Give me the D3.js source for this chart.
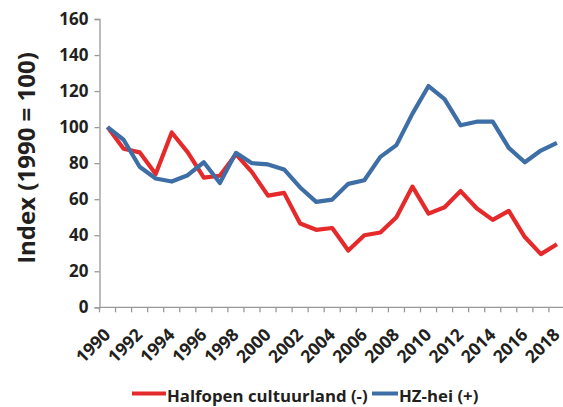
<!DOCTYPE html>
<html>
<head>
<meta charset="utf-8">
<script src="https://cdn.jsdelivr.net/npm/d3@7"></script>
<style>
  html, body { margin: 0; padding: 0; background: #fff; }
  svg { display: block; font-family: "Open Sans", "Noto Sans", sans-serif; }
</style>
</head>
<body>
<svg id="chart" width="563" height="407"></svg>
<script>
const years = [1990,1991,1992,1993,1994,1995,1996,1997,1998,1999,2000,2001,2002,2003,2004,2005,2006,2007,2008,2009,2010,2011,2012,2013,2014,2015,2016,2017,2018];
const halfopen = [100,88,86,74,97,86,72,73,85,75,62,63.5,46.5,43,44,31.5,40,41.5,50,67,52,55.5,64.5,55,48.5,53.5,39,29.5,35];
const hzHei = [100,93,78,71.5,69.8,73.3,80.5,69,85.7,80,79.3,76.5,66.5,58.5,59.8,68.5,70.5,83.5,90,107.5,122.8,115.5,101,103,103,88.5,80.5,87,91.3];
const yTicks = [0,20,40,60,80,100,120,140,160];
const xLabelYears = [1990,1992,1994,1996,1998,2000,2002,2004,2006,2008,2010,2012,2014,2016,2018];
const seriesNames = ["Halfopen cultuurland (-)", "HZ-hei (+)"];
const seriesColors = ["#e42a2b", "#3e6ea6"];

const svg = d3.select("#chart");
const mLeft = 99.5, mTop = 19, mBottom = 307.3;
const step = 16.05;
const x = d3.scaleBand().domain(years).range([mLeft, mLeft + years.length * step]).paddingInner(0).paddingOuter(0);
const y = d3.scaleLinear().domain([0, 160]).range([mBottom, mTop]);
const cx = d => x(d) + x.bandwidth() / 2;

const axisColor = "#999";

// y axis
const yAxis = svg.append("g").attr("transform", `translate(${mLeft},0)`)
  .call(d3.axisLeft(y).tickValues(yTicks).tickSize(5).tickPadding(6));
yAxis.select(".domain").attr("stroke", axisColor).attr("stroke-width", 1.3);
yAxis.selectAll(".tick line").attr("stroke", axisColor).attr("stroke-width", 1.3);
yAxis.selectAll(".tick text").attr("fill", "#231f20").attr("font-size", 17).attr("font-weight", "bold")
  .attr("font-family", "'Open Sans', sans-serif");

// x axis: ticks between categories
const xg = svg.append("g").attr("transform", `translate(0,${mBottom})`);
xg.append("line").attr("x1", mLeft).attr("x2", 563).attr("y1", 0).attr("y2", 0)
  .attr("stroke", axisColor).attr("stroke-width", 1.3);
const boundaries = years.map(d => x(d)).concat([x(years[years.length - 1]) + step]);
xg.selectAll("line.tk").data(boundaries).enter().append("line").attr("class", "tk")
  .attr("x1", d => d).attr("x2", d => d).attr("y1", 0).attr("y2", 5)
  .attr("stroke", axisColor).attr("stroke-width", 1.3);
xg.selectAll("text.xl").data(xLabelYears).enter().append("text").attr("class", "xl")
  .attr("transform", d => `translate(${Math.min(cx(d) + 4, 561)},${28.5}) rotate(-45)`)
  .attr("text-anchor", "end")
  .attr("font-size", 17.5).attr("font-weight", "bold").attr("fill", "#231f20")
  .text(d => d);

// y title
svg.append("text")
  .attr("transform", `translate(35,158) rotate(-90)`)
  .attr("text-anchor", "middle")
  .attr("font-size", 24).attr("font-weight", "bold").attr("fill", "#231f20")
  .text("Index (1990 = 100)");

// lines
const line = d3.line().x((d, i) => cx(years[i])).y(d => y(d));
[halfopen, hzHei].forEach((s, k) => {
  svg.append("path").datum(s)
    .attr("fill", "none").attr("stroke", seriesColors[k]).attr("stroke-width", 4.2)
    .attr("stroke-linejoin", "round")
    .attr("d", line);
});

// legend
const lg = svg.append("g");
const legendItems = [{x1: 132, x2: 166, tx: 167}, {x1: 372, x2: 398, tx: 399}];
legendItems.forEach((it, k) => {
  lg.append("line").attr("x1", it.x1).attr("x2", it.x2).attr("y1", 393.5).attr("y2", 393.5)
    .attr("stroke", seriesColors[k]).attr("stroke-width", 4);
  lg.append("text").attr("x", it.tx).attr("y", 401.5)
    .attr("font-size", 16.8).attr("font-weight", "bold").attr("fill", "#231f20")
    .text(seriesNames[k]);
});
</script>
</body>
</html>
